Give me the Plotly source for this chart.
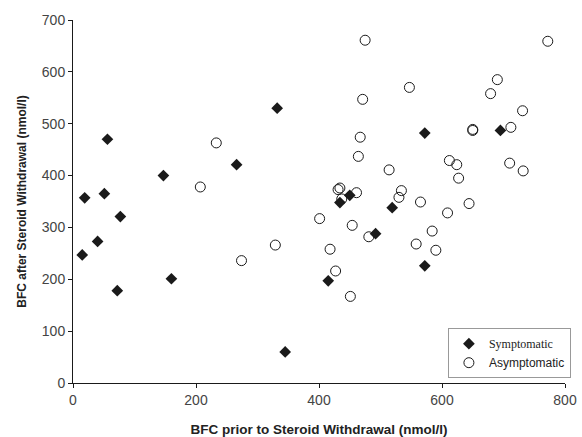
import plotly.graph_objects as go

sym_x = [15, 19, 40, 51, 56, 72, 77, 147, 160, 266, 332, 345, 415, 434, 450, 492, 519, 572, 572, 695]
sym_y = [247, 357, 273, 365, 470, 178, 321, 400, 201, 421, 530, 60, 197, 348, 362, 288, 338, 482, 226, 487]

asym_x = [207, 233, 274, 329, 401, 418, 427, 431, 434, 437, 451, 454, 461, 464, 467, 471, 475, 481,
          514, 530, 534, 547, 558, 565, 584, 590, 609, 612, 624, 627, 644, 650, 650, 679, 690, 710,
          712, 731, 732, 772]
asym_y = [378, 463, 236, 266, 317, 258, 216, 373, 376, 355, 167, 304, 367, 437, 474, 547, 661, 282,
          411, 358, 371, 570, 268, 349, 293, 256, 328, 429, 421, 395, 346, 487, 489, 558, 585, 424,
          493, 525, 409, 659]

x_ticks = [0, 200, 400, 600, 800]
y_ticks = [0, 100, 200, 300, 400, 500, 600, 700]

fig = go.Figure()
fig.add_trace(go.Scatter(
    x=sym_x, y=sym_y, mode="markers",
    name='<span style="font-family:Liberation Serif;font-size:12px">Symptomatic</span>',
    marker=dict(symbol="diamond", size=9, color="#1a1a1a", line=dict(width=0)),
))
fig.add_trace(go.Scatter(
    x=asym_x, y=asym_y, mode="markers",
    name="Asymptomatic",
    marker=dict(symbol="circle-open", size=10, color="#1a1a1a", line=dict(width=1)),
))

axis_common = dict(
    showgrid=False, zeroline=False, showline=True, linecolor="#1a1a1a", linewidth=1,
    ticks="outside", ticklen=4, tickcolor="#1a1a1a", automargin=False,
    tickfont=dict(family="Liberation Sans, Arial", size=14, color="#444444"),
)

fig.update_layout(
    width=582, height=437,
    margin=dict(l=73, r=11, t=20, b=54, pad=0),
    paper_bgcolor="white", plot_bgcolor="white",
    xaxis=dict(range=[0, 800], tickvals=x_ticks, **axis_common,
               title=dict(text="<b>BFC prior to Steroid Withdrawal (nmol/l)</b>", standoff=17,
                          font=dict(family="Liberation Sans, Arial", size=13.5, color="#222222"))),
    yaxis=dict(range=[0, 700], tickvals=y_ticks, **axis_common,
               title=dict(text="<b>BFC after Steroid Withdrawal (nmol/l)</b>", standoff=12,
                          font=dict(family="Liberation Sans, Arial", size=12, color="#222222"))),
    showlegend=True,
    legend=dict(x=0.762, y=0.151, xanchor="left", yanchor="top",
                bgcolor="white", bordercolor="#999999", borderwidth=1,
                font=dict(family="Liberation Sans, Arial", size=12, color="#222222"),
                tracegroupgap=0),
)

fig.write_html("out.html", config={"displayModeBar": False},
               post_script="document.body.style.margin='0';document.body.style.overflow='hidden';")
